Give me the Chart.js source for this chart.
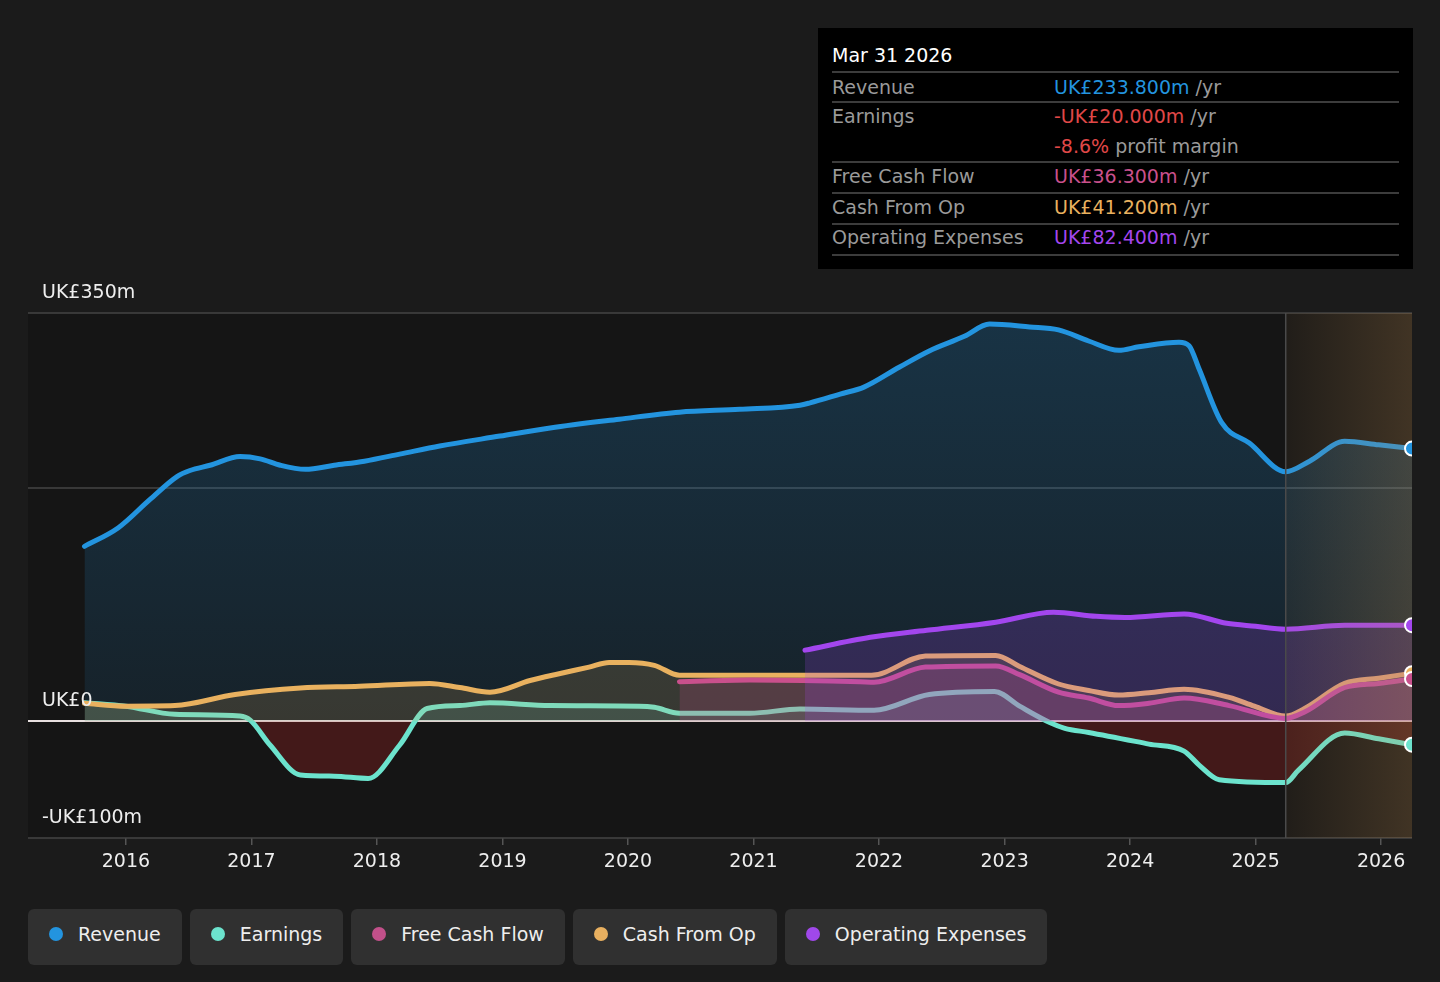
<!DOCTYPE html>
<html>
<head>
<meta charset="utf-8">
<script src="https://cdn.jsdelivr.net/npm/chart.js@4.4.1/dist/chart.umd.min.js"></script>
<style>
  html, body { margin:0; padding:0; background:#1b1b1b; width:1440px; height:982px; overflow:hidden; font-family:"DejaVu Sans", sans-serif; }
  #wrap { position:absolute; left:0; top:0; width:1440px; height:900px; }
  #tip { position:absolute; left:818px; top:28px; width:595px; height:241px; background:#000; color:#9a9a9a; font-size:19px; }
  #tip .t { position:absolute; left:14px; white-space:nowrap; transform:translateY(-50%); line-height:1; }
  #tip .v { left:236px; }
  #tip .ln { position:absolute; left:14px; width:567px; height:2px; background:#3c3c3c; }
  #legend { position:absolute; left:28px; top:909px; display:flex; gap:8px; }
  .lg { height:56px; background:#303030; border-radius:6px; display:flex; align-items:center; padding:0 21px 6px 21px; color:#eeeeee; font-size:19px; box-sizing:border-box; }
  .lg .d { width:14px; height:14px; border-radius:50%; margin-right:15px; }
</style>
</head>
<body>
<div id="wrap"><canvas id="c" width="1440" height="900"></canvas></div>

<div id="tip">
  <div class="t" style="top:27px;color:#fff;">Mar 31 2026</div>
  <div class="ln" style="top:43px"></div>
  <div class="t" style="top:59px">Revenue</div>
  <div class="t v" style="top:59px"><span style="color:#2394df">UK£233.800m</span> /yr</div>
  <div class="ln" style="top:73px"></div>
  <div class="t" style="top:88px">Earnings</div>
  <div class="t v" style="top:88px"><span style="color:#e04848">-UK£20.000m</span> /yr</div>
  <div class="t v" style="top:118px"><span style="color:#e04848">-8.6%</span> profit margin</div>
  <div class="ln" style="top:133px"></div>
  <div class="t" style="top:148px">Free Cash Flow</div>
  <div class="t v" style="top:148px"><span style="color:#c9508c">UK£36.300m</span> /yr</div>
  <div class="ln" style="top:164px"></div>
  <div class="t" style="top:179px">Cash From Op</div>
  <div class="t v" style="top:179px"><span style="color:#e9b15f">UK£41.200m</span> /yr</div>
  <div class="ln" style="top:195px"></div>
  <div class="t" style="top:209px">Operating Expenses</div>
  <div class="t v" style="top:209px"><span style="color:#a346ee">UK£82.400m</span> /yr</div>
  <div class="ln" style="top:226px"></div>
</div>

<div id="legend">
  <div class="lg"><span class="d" style="background:#2394df"></span>Revenue</div>
  <div class="lg"><span class="d" style="background:#6ce3cd"></span>Earnings</div>
  <div class="lg"><span class="d" style="background:#c2508a"></span>Free Cash Flow</div>
  <div class="lg"><span class="d" style="background:#e8b060"></span>Cash From Op</div>
  <div class="lg"><span class="d" style="background:#a048ea"></span>Operating Expenses</div>
</div>

<script>
// ---- Data (UK£ m, x in decimal years) ----
const revenueDates  = [2015.67,2015.94,2016.19,2016.41,2016.51,2016.67,2016.91,2017.07,2017.23,2017.43,2017.66,2017.90,2018.18,2018.50,2018.98,2019.38,2019.93,2020.41,2020.89,2021.37,2021.45,2021.69,2021.88,2022.16,2022.40,2022.68,2022.88,2023.20,2023.43,2023.67,2023.91,2024.07,2024.39,2024.47,2024.55,2024.73,2024.95,2025.24,2025.43,2025.71,2025.98,2026.246];
const revenueValues = [150,166,190,210,215,219.5,227,225,219.5,216,219.5,223,229,236,244.5,251.5,259,265,267.5,271,273,280.5,286.5,303.5,317.5,330,340.5,338,335.5,326,318,321,325,322,302,256,238.5,214,223,240,237,233.8];

const earningsDates  = [2015.67,2016.0,2016.39,2016.91,2016.99,2017.15,2017.39,2017.66,2017.93,2018.18,2018.40,2018.66,2018.90,2019.38,2020.09,2020.21,2020.41,2020.97,2021.37,2021.96,2022.40,2022.92,2023.12,2023.36,2023.48,2023.67,2024.15,2024.43,2024.55,2024.71,2025.24,2025.34,2025.71,2025.98,2026.246];
const earningsValues = [16,13,6,4.5,1,-20.5,-46,-47,-49,-20.5,11,13.5,16,13.5,13,12,7,7,10.5,9.5,23,25.5,13,-1,-6,-9.5,-19.5,-25.5,-37.5,-50,-52.5,-42,-10,-15,-20];

const fcfDates  = [2020.41,2020.97,2021.85,2021.96,2022.37,2022.93,2023.12,2023.43,2023.67,2023.91,2024.15,2024.43,2024.79,2025.24,2025.39,2025.71,2025.98,2026.246];
const fcfValues = [34,35.5,34,33.5,46.5,47.5,40,25,20,13.5,15.5,20,13.5,2.5,8,29,32.5,36.3];

const cfoDates  = [2015.67,2016.0,2016.39,2016.87,2017.39,2017.86,2018.42,2018.66,2018.90,2019.22,2019.46,2019.69,2019.85,2020.01,2020.21,2020.41,2021.0,2021.94,2022.37,2022.93,2023.12,2023.43,2023.67,2023.91,2024.15,2024.43,2024.79,2024.99,2025.24,2025.39,2025.71,2025.98,2026.246];
const cfoValues = [15.5,13,13.5,23,28.5,30,32.5,29,25,35,41,46.5,50.5,50.5,48,39.5,39.5,39.5,56,56.5,47,32,26.5,22.5,24.5,27.5,20.5,13,4.5,11,32.5,37,41.2];

const opexDates  = [2021.41,2021.93,2022.38,2022.93,2023.39,2023.73,2023.96,2024.43,2024.77,2025.0,2025.24,2025.71,2026.246];
const opexValues = [61,72,78,85,93.5,90,89,92,84,81.5,79,82.4,82.4];

const xTicks = [2016,2017,2018,2019,2020,2021,2022,2023,2024,2025,2026];
const yGrid = [-100,0,200,350];
const yLabels = [{v:350,t:'UK£350m'},{v:0,t:'UK£0'},{v:-100,t:'-UK£100m'}];
const xMin = 2015.22, xMax = 2026.246, forecastStart = 2025.24;

function pts(xs, ys){ return xs.map((x,i)=>({x:x,y:ys[i]})); }

const COL = { rev:'#2394df', earn:'#6ce3cd', fcf:'#c9508c', cfo:'#e9b15f', opex:'#a346ee' };

function vgrad(ctx, top, bottom){
  const ch = ctx.chart; const a = ch.chartArea;
  if(!a) return top;
  const g = ch.ctx.createLinearGradient(0, a.top, 0, ch.scales.y.getPixelForValue(0));
  g.addColorStop(0, top); g.addColorStop(1, bottom);
  return g;
}

const overlay = {
  id:'overlay',
  beforeDatasetsDraw(ch){
    const {ctx, chartArea:a} = ch;
    ctx.save();
    ctx.fillStyle = '#151515';
    ctx.fillRect(a.left, a.top, a.right-a.left, a.bottom-a.top);
    ctx.restore();
    const y = ch.scales.y;
    ctx.save();
    yGrid.forEach(v=>{
      const py = Math.round(y.getPixelForValue(v));
      ctx.strokeStyle = v===0 ? '#e8e0e0' : '#444';
      ctx.lineWidth = v===0 ? 2 : 1.5;
      ctx.beginPath(); ctx.moveTo(a.left, py); ctx.lineTo(a.right, py); ctx.stroke();
    });
    ctx.restore();
  },
  afterDatasetsDraw(ch){
    const {ctx, chartArea:a} = ch;
    const x = ch.scales.x, y = ch.scales.y;
    const fx = x.getPixelForValue(forecastStart);
    ctx.save();
    const g = ctx.createLinearGradient(fx, 0, a.right, 0);
    g.addColorStop(0, 'rgba(190,140,80,0.07)');
    g.addColorStop(1, 'rgba(190,140,80,0.26)');
    ctx.fillStyle = g;
    ctx.fillRect(fx, a.top, a.right-fx, a.bottom-a.top);
    ctx.strokeStyle = '#4a4a4a'; ctx.lineWidth = 1.5;
    ctx.beginPath(); ctx.moveTo(fx, a.top); ctx.lineTo(fx, a.bottom); ctx.stroke();
    ctx.beginPath(); ctx.rect(a.left, a.top-20, a.right-a.left, a.bottom-a.top+40); ctx.clip();
    const ends = [[revenueDates,revenueValues,COL.rev],[opexDates,opexValues,COL.opex],[cfoDates,cfoValues,COL.cfo],[fcfDates,fcfValues,COL.fcf],[earningsDates,earningsValues,COL.earn]];
    ends.forEach(([xs,ys,c])=>{
      const px = x.getPixelForValue(xs[xs.length-1]);
      const py = y.getPixelForValue(ys[ys.length-1]);
      ctx.beginPath(); ctx.arc(px, py, 7, 0, Math.PI*2);
      ctx.fillStyle = c; ctx.fill();
      ctx.lineWidth = 2; ctx.strokeStyle = '#fff'; ctx.stroke();
    });
    ctx.restore();
    ctx.save();
    ctx.font = '19px "DejaVu Sans"';
    ctx.fillStyle = '#eeeeee';
    ctx.textBaseline = 'middle';
    yLabels.forEach(l=>{
      ctx.fillText(l.t, 42, y.getPixelForValue(l.v) - 20);
    });
    ctx.restore();
  }
};

const common = { pointRadius:0, borderWidth:5, cubicInterpolationMode:'monotone', borderCapStyle:'round', borderJoinStyle:'round' };

new Chart(document.getElementById('c'), {
  type:'line',
  data:{ datasets:[
    Object.assign({ label:'Revenue', data:pts(revenueDates,revenueValues), borderColor:COL.rev, order:5,
      fill:{target:'origin'}, backgroundColor:(c)=>vgrad(c,'rgba(35,148,223,0.24)','rgba(35,148,223,0.10)') }, common),
    Object.assign({ label:'Earnings', data:pts(earningsDates,earningsValues), borderColor:COL.earn, order:4,
      fill:{target:'origin', above:'rgba(108,227,205,0.16)', below:'rgba(200,40,40,0.26)'} }, common),
    Object.assign({ label:'Cash From Op', data:pts(cfoDates,cfoValues), borderColor:COL.cfo, order:3,
      fill:{target:'origin'}, backgroundColor:'rgba(233,177,95,0.16)' }, common),
    Object.assign({ label:'Free Cash Flow', data:pts(fcfDates,fcfValues), borderColor:COL.fcf, order:2,
      fill:{target:'origin'}, backgroundColor:'rgba(201,80,140,0.20)' }, common),
    Object.assign({ label:'Operating Expenses', data:pts(opexDates,opexValues), borderColor:COL.opex, order:1,
      fill:{target:'origin'}, backgroundColor:'rgba(163,70,238,0.20)' }, common)
  ]},
  options:{
    responsive:false, animation:false,
    layout:{ padding:{ left:28, right:28, top:313, bottom:12 } },
    plugins:{ legend:{display:false}, tooltip:{enabled:false}, filler:{propagate:false} },
    scales:{
      x:{ type:'linear', min:xMin, max:xMax,
        afterBuildTicks:(s)=>{ s.ticks = xTicks.map(v=>({value:v})); },
        afterFit:(s)=>{ s.height = 50; },
        grid:{ drawOnChartArea:false, drawTicks:true, tickLength:7, color:'#555', lineWidth:1.5 },
        border:{ display:false },
        ticks:{ color:'#eeeeee', font:{family:'DejaVu Sans', size:19}, padding:6, maxRotation:0, autoSkip:false, callback:(v)=>String(v) } },
      y:{ type:'linear', min:-100, max:350,
        afterBuildTicks:(s)=>{ s.ticks = yGrid.map(v=>({value:v})); },
        afterFit:(s)=>{ s.width = 0; },
        grid:{ display:false }, border:{display:false}, ticks:{ display:false } }
    }
  },
  plugins:[overlay]
});
</script>
</body>
</html>
